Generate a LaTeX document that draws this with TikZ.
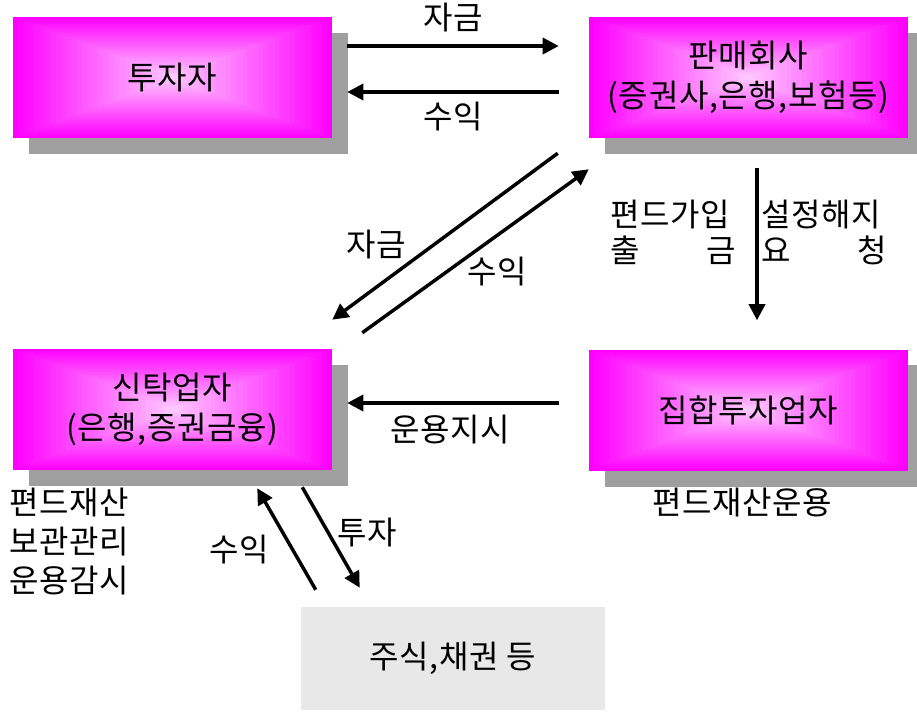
\documentclass[tikz,border=0pt]{standalone}
\usepackage{fontspec}
\setmainfont{Noto Sans CJK KR}[LetterSpace=2]
\usetikzlibrary{arrows.meta,calc,backgrounds}

\definecolor{boxmag}{HTML}{FF00FF}
\definecolor{boxpink}{HTML}{FFCCFF}
\definecolor{shadowgray}{HTML}{9F9F9F}
\definecolor{stockgray}{HTML}{E8E8E8}

\tikzset{
  fundbox/.style={rectangle, inner sep=0pt, minimum width=239.25pt, minimum height=90.75pt, align=center,
    path picture={
      \foreach \k in {0,...,30}{
        \pgfmathsetmacro\f{1-\k/30}
        \pgfmathtruncatemacro\c{100*\f}
        \fill[boxmag!\c!boxpink] ($(path picture bounding box.center)!\f!(path picture bounding box.south west)$) rectangle ($(path picture bounding box.center)!\f!(path picture bounding box.north east)$);
      }
    }},
  stockbox/.style={rectangle, inner sep=0pt, fill=stockgray, minimum width=228pt, minimum height=77.25pt},
  flow/.style={line width=2.6pt, -{Triangle[length=12pt,width=12pt]}},
  lbl/.style={inner sep=0pt},
}

\begin{document}
\begin{tikzpicture}[x=0.75pt,y=-0.75pt,font=\fontsize{24pt}{30pt}\selectfont]
\useasboundingbox (0,0) rectangle (917,713);

% Boxes
\node[fundbox] (inv) at (172.5,77.5) {투자자};
\node[fundbox] (sell) at (748.5,77.5) {판매회사\\(증권사,은행,보험등)};
\node[fundbox] (trust) at (172.5,409.5) {신탁업자\\(은행,증권금융)};
\node[fundbox] (mgr) at (748.5,410) {집합투자업자};
\node[stockbox] (stock) at (453,658.5) {주식,채권 등};

% Shadows
\begin{scope}[on background layer]
\foreach \n in {inv,sell,trust,mgr}
  \fill[shadowgray] ([shift={(16,16)}]\n.north west) rectangle ([shift={(16,16)}]\n.south east);
\end{scope}

% Investor <-> seller
\draw[flow] ([shift={(15,-31.5)}]inv.east) -- ([shift={(-30,-31.5)}]sell.west);
\draw[flow] ([shift={(-30,14.5)}]sell.west) -- ([shift={(15,14.5)}]inv.east);
\node[lbl] (tmoney) at (453,18) {자금};
\node[lbl] (tret) at (453,117) {수익};

% Seller <-> trustee
\draw[flow] ([shift={(-31,15)}]sell.south west) -- ([shift={(0,-29)}]trust.north east);
\draw[flow] ([shift={(30,-16)}]trust.north east) -- ([shift={(0,31)}]sell.south west);
\node[lbl] (dmoney) at (376,245) {자금};
\node[lbl] (dret) at (497,272) {수익};

% Seller -> manager
\draw[flow] ([shift={(8.5,30)}]sell.south) -- ([shift={(8.5,-29)}]mgr.north);
\node[lbl, anchor=west, align=left, font=\fontsize{24pt}{26.5pt}\selectfont] (join) at (610,232.5) {편드가입\\\makebox[94pt]{출\hfill 금}};
\node[lbl, anchor=west, align=left, font=\fontsize{24pt}{26.5pt}\selectfont] (cancel) at (761,232.5) {설정해지\\\makebox[94pt]{요\hfill 청}};

% Manager -> trustee
\draw[flow] ([shift={(-30,-7)}]mgr.west) -- ([shift={(15,-6.5)}]trust.east);
\node[lbl] (order) at (450,430) {운용지시};
\node[lbl] (oper) at (742,503) {편드재산운용};
\node[lbl, anchor=west, align=left, font=\fontsize{24pt}{29pt}\selectfont] (keep) at (9,541.5) {편드재산\\보관관리\\운용감시};

% Trustee <-> stocks
\draw[flow] ([shift={(-30,17)}]trust.south east) -- ([shift={(59,-19)}]stock.north west);
\draw[flow] ([shift={(15,-17)}]stock.north west) -- ([shift={(-75,18)}]trust.south east);
\node[lbl] (sret) at (239,550) {수익};
\node[lbl] (sinv) at (367,533) {투자};

\end{tikzpicture}
\end{document}
